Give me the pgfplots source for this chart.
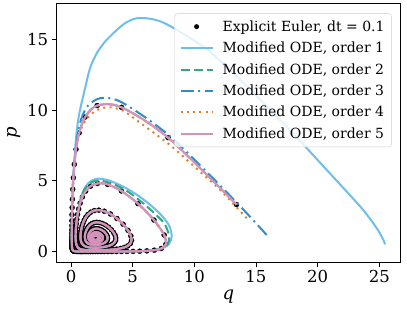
\documentclass[border=0pt]{standalone}
\usepackage{pgfplots}
\pgfplotsset{compat=1.18}
\usepackage{pgfplotstable}
\usepackage{fontspec}
\setmainfont{DejaVu Serif}

\definecolor{c1}{RGB}{110,190,235}
\definecolor{c2}{RGB}{45,170,130}
\definecolor{c3}{RGB}{50,140,200}
\definecolor{c4}{RGB}{228,125,45}
\definecolor{c5}{RGB}{215,145,185}

\tikzset{
 o1/.style={c1, line width=2pt, solid},
 o2/.style={c2, line width=2pt, dash pattern=on 9pt off 4pt},
 o3/.style={c3, line width=2pt, dash pattern=on 13pt off 4.5pt on 2pt off 4.5pt},
 o4/.style={c4, line width=2pt, dash pattern=on 2pt off 4.3pt},
 o5/.style={c5, line width=2.2pt, solid},
}

% Explicit Euler points, listed from the last step back to the first
\pgfplotstableread{
q p
13.42 3.327
7.869 8.054
4.100 10.194
2.122 10.32
1.147 9.509
0.660 8.385
0.4066 7.233
0.2681 6.165
0.1885 5.220
0.1407 4.402
0.1108 3.7025
0.0915 3.109
0.0788 2.608
0.0704 2.186
0.0650 1.8316
0.0617 1.5342
0.0600 1.2849
0.05955 1.0761
0.06014 0.9013
0.06165 0.7550
0.0640 0.6325
0.06716 0.5300
0.07111 0.4443
0.07587 0.3726
0.08147 0.3126
0.08796 0.2624
0.0954 0.2204
0.1039 0.1852
0.1135 0.1557
0.1243 0.1310
0.1364 0.1104
0.1500 0.0931
0.1652 0.0786
0.1822 0.06644
0.2012 0.05624
0.2224 0.04775
0.2460 0.04062
0.2723 0.03464
0.3016 0.02961
0.3342 0.02538
0.3704 0.02182
0.4107 0.01883
0.4555 0.01631
0.5053 0.01419
0.5607 0.01240
0.6223 0.01090
0.6907 0.009637
0.7667 0.008579
0.8512 0.007695
0.9450 0.006961
1.0493 0.006357
1.1651 0.005867
1.2938 0.00548
1.4367 0.005188
1.5955 0.004987
1.7718 0.004876
1.9676 0.004860
2.1850 0.004952
2.4264 0.005173
2.6943 0.005559
2.9916 0.006171
3.3214 0.007111
3.6869 0.008555
4.0916 0.01082
4.5389 0.0145
5.0316 0.02082
5.5706 0.03238
6.1517 0.05537
6.7560 0.1056
7.323 0.2258
7.689 0.5238
7.554 1.178
6.725 2.233
5.425 3.396
4.082 4.289
2.969 4.749
2.148 4.820
1.577 4.624
1.188 4.277
0.924 3.861
0.743 3.430
0.6185 3.014
0.5315 2.628
0.4712 2.2795
0.4295 1.9701
0.4015 1.6986
0.3838 1.4623
0.3742 1.2578
0.3712 1.0816
0.3738 0.9303
0.3814 0.8007
0.3936 0.6899
0.4102 0.5953
0.4311 0.5146
0.4564 0.4458
0.4862 0.3872
0.5207 0.3373
0.5602 0.2948
0.6051 0.2587
0.6557 0.2280
0.7126 0.2020
0.7763 0.1800
0.8474 0.1614
0.9266 0.1458
1.0146 0.1327
1.1123 0.1219
1.2206 0.1131
1.3404 0.1061
1.4728 0.1008
1.6190 0.09713
1.7801 0.09508
1.9573 0.09472
2.1518 0.09623
2.3646 0.09992
2.5967 0.1063
2.8485 0.1162
3.1197 0.1308
3.4087 0.1522
3.7117 0.1836
4.0213 0.2301
4.3241 0.2998
4.5977 0.4050
4.808 0.5631
4.909 0.7941
4.855 1.1114
4.621 1.506
4.225 1.937
3.726 2.341
3.196 2.659
2.695 2.858
2.258 2.934
1.897 2.904
1.608 2.795
1.382 2.632
1.208 2.439
1.075 2.233
0.975 2.025
0.901 1.824
0.847 1.635
0.810 1.461
0.786 1.303
0.774 1.161
0.771 1.034
0.777 0.921
0.791 0.822
0.813 0.735
0.842 0.659
0.878 0.5925
0.921 0.5348
0.971 0.4849
1.028 0.4420
1.093 0.4053
1.166 0.3741
1.247 0.3479
1.337 0.3263
1.436 0.3089
1.545 0.2955
1.664 0.2859
1.793 0.2801
1.933 0.2782
2.083 0.2805
2.243 0.2875
2.412 0.2999
2.588 0.3187
2.769 0.3453
2.952 0.3816
3.130 0.4302
3.297 0.4943
3.442 0.5776
3.554 0.6839
3.621 0.8162
3.630 0.9752
3.574 1.157
3.452 1.354
3.272 1.551
3.049 1.733
2.801 1.884
2.548 1.993
2.305 2.056
2.082 2.073
1.884 2.049
1.714 1.992
1.571 1.910
1.453 1.811
1.358 1.702
1.283 1.588
1.225 1.474
1.182 1.363
1.152 1.257
1.134 1.157
1.127 1.064
1.129 0.979
1.140 0.9015
1.160 0.8316
1.187 0.7691
1.222 0.7136
1.264 0.6647
1.314 0.6220
1.371 0.5852
1.435 0.5539
1.506 0.5278
1.584 0.5067
1.669 0.4905
1.761 0.4790
1.859 0.4723
1.963 0.4706
2.072 0.4740
2.185 0.4829
2.301 0.4979
2.417 0.5196
2.531 0.5488
2.640 0.5863
2.741 0.6332
2.829 0.6904
2.899 0.7586
2.947 0.8379
2.968 0.9277
2.960 1.026
2.922 1.130
2.855 1.236
2.762 1.338
2.648 1.431
2.520 1.509
2.384 1.569
2.247 1.609
2.114 1.628
1.989 1.626
1.875 1.606
1.774 1.570
1.686 1.522
1.611 1.465
1.549 1.402
1.499 1.335
1.460 1.267
1.432 1.199
1.413 1.133
1.403 1.069
1.402 1.009
1.409 0.9527
1.423 0.9007
1.444 0.8533
1.472 0.8105
1.506 0.7724
1.546 0.7389
1.592 0.7100
1.644 0.6856
1.701 0.6657
1.763 0.6503
1.829 0.6394
1.899 0.6330
1.972 0.6312
2.047 0.6342
2.123 0.6421
2.199 0.6551
2.273 0.6735
2.344 0.6975
2.410 0.7273
2.469 0.7631
2.518 0.8048
2.556 0.8522
2.581 0.9047
2.591 0.9615
2.586 1.021
2.565 1.082
2.529 1.142
2.480 1.200
2.419 1.252
2.349 1.297
2.273 1.333
2.194 1.359
2.115 1.375
2.038 1.380
1.964 1.375
1.896 1.361
1.834 1.339
1.779 1.310
1.731 1.276
1.691 1.238
1.658 1.197
1.633 1.155
1.615 1.112
1.604 1.070
1.599 1.029
1.601 0.9895
1.609 0.9522
1.622 0.9176
1.641 0.8858
1.665 0.8571
1.694 0.8316
1.727 0.8095
1.764 0.7908
1.805 0.7756
1.849 0.7640
1.895 0.7561
1.943 0.7518
1.993 0.7512
2.043 0.7545
2.093 0.7616
2.142 0.7726
2.189 0.7874
2.232 0.8061
2.271 0.8285
2.305 0.8545
2.332 0.8839
2.352 0.9161
2.364 0.9507
2.367 0.9869
2.361 1.024
2.347 1.061
2.325 1.097
2.295 1.130
2.259 1.160
2.218 1.186
2.173 1.207
2.126 1.222
2.078 1.232
2.030 1.236
1.984 1.234
1.940 1.227
1.899 1.215
1.862 1.198
1.829 1.178
1.801 1.155
1.778 1.130
1.760 1.103
1.747 1.076
1.739 1.049
1.7345 1.0225
1.7353 0.9960
1.7413 0.9701
1.7522 0.9453
1.7678 0.9221
1.7876 0.9009
1.8112 0.8820
1.8381 0.8658
1.8676 0.8526
1.8991 0.8425
1.9319 0.8357
1.9655 0.8322
1.9991 0.8321
2.0320 0.8353
2.0637 0.8417
2.0935 0.8510
2.1209 0.8631
2.1453 0.8777
2.1665 0.8943
2.1839 0.9127
2.1974 0.9324
2.2068 0.9531
2.2120 0.9743
2.2128 0.9956
2.2095 1.0165
2.2022 1.0368
2.1910 1.0559
2.1763 1.0735
2.1585 1.0893
2.1378 1.1031
2.1149 1.1146
2.0902 1.1236
2.0642 1.1300
2.0374 1.1338
2.0105 1.1348
1.9838 1.1332
1.9580 1.1290
1.9336 1.1224
1.9109 1.1135
1.8904 1.1025
1.8724 1.0897
1.8573 1.0755
1.8453 1.0600
1.8366 1.0437
1.8312 1.0268
}\euler

\begin{document}
\begin{tikzpicture}
\begin{axis}[
 scale only axis, width=343.3pt, height=258.7pt,
 xmin=-1.16, xmax=26.68, ymin=-0.73, ymax=17.54,
 xtick={0,5,10,15,20,25}, ytick={0,5,10,15},
 tick align=outside, xtick pos=left, ytick pos=left,
 major tick length=5pt,
 clip marker paths=true,
 every tick/.style={black, line width=0.8pt},
 axis line style={black, line width=0.8pt},
 tick label style={font=\fontsize{16.5}{19}\selectfont},
 /pgf/number format/assume math mode=true,
 xlabel={\textit{q}}, ylabel={\textit{p}},
 label style={font=\fontsize{18}{21}\selectfont},
 legend cell align=left,
 legend style={at={(0.976,0.961)}, anchor=north east, draw=black!20,
   fill=white, fill opacity=0.8, text opacity=1, draw opacity=1,
   rounded corners=3pt, font=\fontsize{14}{16}\selectfont,
   row sep=5.3pt, inner xsep=5pt, inner ysep=5pt},
]
\coordinate (bl) at (rel axis cs:0,0);

% Explicit Euler
\addplot[only marks, mark=*, mark size=2.5pt, black,
  legend image code/.code={\path[draw=none,fill=none] (0pt,0pt) -- (40pt,0pt); \fill[black, draw=none, fill opacity=1] (16pt,0pt) circle (2.5pt);}]
  table[x=q,y=p]{\euler};
\addlegendentry{Explicit Euler, dt = 0.1}

% order 1
\addplot[o1, smooth, legend image code/.code={\path[draw=none,fill=none] (0pt,0pt) -- (40pt,0pt); \draw[o1, draw opacity=1] (0pt,0pt) -- (32pt,0pt);}]
coordinates {(25.47,0.52) (25.33,0.83) (24.8,1.65) (23.7,2.94) (22.36,4.24) (20.74,5.77)
 (19.0,7.42) (17.0,9.25) (14.0,11.9) (11.0,14.3) (7.9,16.0) (6.54,16.43) (5.33,16.48)
 (4.38,16.13) (3.57,15.54) (2.76,14.83) (2.08,14.0) (1.54,12.95) (1.14,11.54) (0.78,10.2)
 (0.6,9.4) (0.45,8.4) (0.33,7.2) (0.2681,6.165)};
\addlegendentry{Modified ODE, order 1}
\addplot[o1, smooth, forget plot, restrict expr to domain={\coordindex}{7:68}] table[x=q,y=p]{\euler};
\addplot[o1, smooth, forget plot] coordinates {(6.756,0.1056) (7.45,0.25) (7.95,0.55) (8.17,1.1)
 (7.95,1.85) (7.3,2.6) (6.3,3.4) (5.2,4.1) (4.1,4.65) (3.0,5.05) (2.15,5.15) (1.55,4.95)
 (1.15,4.55) (0.9,4.05) (0.72,3.5) (0.6185,3.014)};
\addplot[o1, smooth, forget plot, restrict expr to domain={\coordindex}{81:400}] table[x=q,y=p]{\euler};

% order 2
\addplot[o2, smooth, restrict expr to domain={\coordindex}{0:68},
  legend image code/.code={\path[draw=none,fill=none] (0pt,0pt) -- (40pt,0pt); \draw[o2, draw opacity=1] (0pt,0pt) -- (32pt,0pt);}] table[x=q,y=p]{\euler};
\addlegendentry{Modified ODE, order 2}
\addplot[o2, smooth, forget plot] coordinates {(6.756,0.1056) (7.4,0.24) (7.85,0.54) (7.95,1.12)
 (7.6,1.95) (6.9,2.6) (5.8,3.45) (4.6,4.25) (3.5,4.75) (2.6,4.98) (2.0,5.0) (1.5,4.8)
 (1.1,4.4) (0.86,3.95) (0.71,3.45) (0.6185,3.014)};
\addplot[o2, smooth, forget plot, restrict expr to domain={\coordindex}{81:400}] table[x=q,y=p]{\euler};

% order 3
\addplot[o3, smooth, legend image code/.code={\path[draw=none,fill=none] (0pt,0pt) -- (40pt,0pt); \draw[o3, draw opacity=1] (0pt,0pt) -- (32pt,0pt);}]
coordinates {(15.87,1.18) (14.0,2.95) (12.0,4.75) (10.0,6.5) (8.03,8.15) (6.0,9.5) (4.0,10.6)
 (2.8,10.88) (2.0,10.72) (1.27,10.2) (0.8,9.3) (0.55,8.3) (0.4066,7.233)};
\addlegendentry{Modified ODE, order 3}
\addplot[o3, smooth, forget plot, restrict expr to domain={\coordindex}{6:400}] table[x=q,y=p]{\euler};

% order 4
\addplot[o4, smooth, legend image code/.code={\path[draw=none,fill=none] (0pt,0pt) -- (40pt,0pt); \draw[o4, draw opacity=1] (0pt,0pt) -- (32pt,0pt);}]
coordinates {(14.25,2.36) (12.1,4.36) (10.2,5.85) (8.0,7.55) (5.6,9.1) (4.2,9.97) (3.0,10.2)
 (2.0,9.95) (1.2,9.3) (0.660,8.385)};
\addlegendentry{Modified ODE, order 4}
\addplot[o4, smooth, forget plot, restrict expr to domain={\coordindex}{5:400}] table[x=q,y=p]{\euler};

% order 5
\addplot[o5, smooth, legend image code/.code={\path[draw=none,fill=none] (0pt,0pt) -- (40pt,0pt); \draw[o5, draw opacity=1] (0pt,0pt) -- (32pt,0pt);}]
  table[x=q,y=p]{\euler};
\addlegendentry{Modified ODE, order 5}
\end{axis}
\pgfresetboundingbox
\path[use as bounding box] (bl) ++(-56.7pt,-52pt) rectangle ++(407pt,314pt);
\end{tikzpicture}
\end{document}
